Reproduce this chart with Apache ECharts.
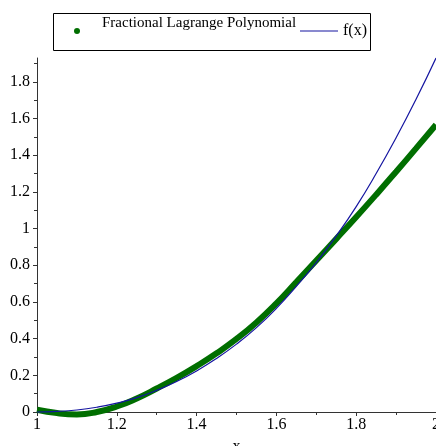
<!DOCTYPE html>
<html>
<head>
<meta charset="utf-8">
<script src="https://cdn.jsdelivr.net/npm/echarts@6/dist/echarts.min.js"></script>
<style>
html,body{margin:0;padding:0;background:#fff;}
#chart{width:436px;height:446px;}
</style>
</head>
<body>
<div id="chart"></div>
<script>
// x sample positions
var xValues = [1.00,1.05,1.10,1.15,1.20,1.25,1.30,1.35,1.40,1.45,1.50,1.55,1.60,1.65,1.70,1.75,1.80,1.85,1.90,1.95,2.00];
// Fractional Lagrange Polynomial (green)
var lagrangeValues = [0.012,-0.006,-0.013,0.000,0.030,0.074,0.128,0.186,0.250,0.320,0.398,0.488,0.592,0.708,0.826,0.944,1.063,1.185,1.310,1.437,1.566];
// f(x) (blue)
var fValues = [0,0.003,0.011,0.026,0.048,0.078,0.118,0.166,0.224,0.292,0.370,0.460,0.565,0.685,0.815,0.960,1.120,1.300,1.495,1.705,1.930];
var xTickLabels = [1,1.2,1.4,1.6,1.8,2];
var yTickLabels = [0,0.2,0.4,0.6,0.8,1,1.2,1.4,1.6,1.8];
var seriesNames = ['Fractional Lagrange Polynomial','f(x)'];

function pairs(xs, ys){ return xs.map(function(x,i){return [x, ys[i]];}); }

var font = 'Liberation Serif, Times New Roman, serif';
var chart = echarts.init(document.getElementById('chart'), null, {renderer:'canvas'});
chart.setOption({
  animation:false,
  backgroundColor:'#fff',
  grid:{left:37,right:0,top:58,bottom:34,containLabel:false,outerBoundsMode:'none'},
  xAxis:{
    type:'value', min:1, max:2, interval:0.2,
    name:'x', nameLocation:'middle', nameGap:27,
    nameTextStyle:{fontFamily:font,fontSize:16,color:'#000'},
    axisLine:{onZero:true,lineStyle:{color:'#333',width:1}},
    axisTick:{show:true,length:4,inside:false,lineStyle:{color:'#333'}},
    minorTick:{show:true,splitNumber:2,length:3,lineStyle:{color:'#333'}},
    splitLine:{show:false},
    axisLabel:{fontFamily:font,fontSize:16,color:'#000',margin:5,
      customValues:xTickLabels,
      formatter:function(v){return String(v);}}
  },
  yAxis:{
    type:'value', min:0, max:1.93, interval:0.2,
    axisLine:{show:true,onZero:false,lineStyle:{color:'#333',width:1}},
    axisTick:{show:true,length:4,lineStyle:{color:'#333'},customValues:yTickLabels},
    minorTick:{show:true,splitNumber:2,length:3,lineStyle:{color:'#333'}},
    splitLine:{show:false},
    axisLabel:{fontFamily:font,fontSize:16,color:'#000',margin:7,
      customValues:yTickLabels,
      formatter:function(v){return String(v);}}
  },
  legend:[
    {show:true,left:74,top:16,padding:0,itemWidth:6,itemHeight:6,
     data:[{name:seriesNames[0],icon:'circle'}],
     formatter:function(n){return n + '\n ';},
     textStyle:{fontFamily:font,fontSize:15,lineHeight:15,color:'#000',padding:[0,0,0,17]},
     selectedMode:false},
    {show:true,left:300,top:23,padding:0,itemWidth:38,itemHeight:1.2,
     data:[{name:seriesNames[1],icon:'rect'}],
     textStyle:{fontFamily:font,fontSize:16,color:'#000'},
     selectedMode:false}
  ],
  graphic:[{type:'rect',shape:{x:53.5,y:13.5,width:317,height:37},
    style:{fill:null,stroke:'#000',lineWidth:1},z:100,silent:true}],
  series:[
    {name:seriesNames[0],type:'line',smooth:true,symbol:'none',clip:false,
     color:'#006e00',lineStyle:{color:'#006e00',width:6},
     data:pairs(xValues,lagrangeValues),z:2},
    {name:seriesNames[1],type:'line',smooth:true,symbol:'none',clip:false,
     color:'#1414a0',lineStyle:{color:'#1414a0',width:1.2},
     data:pairs(xValues,fValues),z:3}
  ]
});
</script>
</body>
</html>
